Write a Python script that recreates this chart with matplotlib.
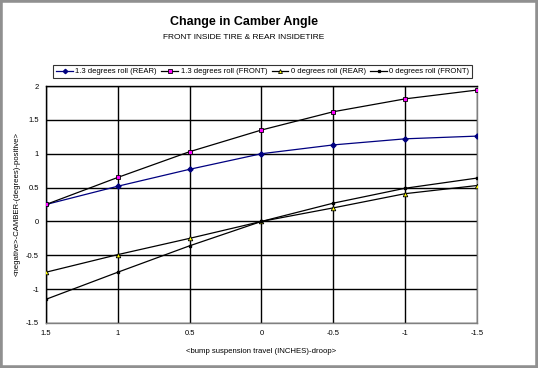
import matplotlib
matplotlib.use("Agg")
import matplotlib.pyplot as plt
from matplotlib.patches import Rectangle

plt.rcParams['font.family'] = ['Liberation Sans', 'DejaVu Sans']

travel = [1.5, 1, 0.5, 0, -0.5, -1, -1.5]
rear_13 = [0.25, 0.52, 0.77, 1.0, 1.13, 1.22, 1.26]
front_13 = [0.25, 0.65, 1.03, 1.35, 1.62, 1.81, 1.94]
rear_0 = [-0.75, -0.49, -0.25, 0.0, 0.20, 0.41, 0.53]
front_0 = [-1.15, -0.75, -0.36, 0.0, 0.27, 0.49, 0.64]
labels = ["1.3 degrees roll (REAR)", "1.3 degrees roll (FRONT)",
          "0 degrees roll (REAR)", "0 degrees roll (FRONT)"]
xticks = [1.5, 1, 0.5, 0, -0.5, -1, -1.5]
xticklabels = ["1.5", "1", "0.5", "0", "-0.5", "-1", "-1.5"]
yticks = [2, 1.5, 1, 0.5, 0, -0.5, -1, -1.5]
yticklabels = ["2", "1.5", "1", "0.5", "0", "-0.5", "-1", "-1.5"]

fig = plt.figure(figsize=(5.38, 3.68), dpi=100)
ax = fig.add_axes([0.0855, 0.1223, 0.801, 0.644])

l1, = ax.plot(travel, rear_13, color='#000080', lw=0.9, marker='D', ms=2.6,
              mfc='#000080', mec='#000080', label=labels[0], zorder=4)
l2, = ax.plot(travel, front_13, color='black', lw=0.9, marker='s', ms=3.3,
              mfc='#ff00ff', mec='black', mew=0.6, label=labels[1], zorder=4)
l3, = ax.plot(travel, rear_0, color='black', lw=0.9, marker='^', ms=3.3,
              mfc='#ffff00', mec='black', mew=0.6, label=labels[2], zorder=4)
l4, = ax.plot(travel, front_0, color='black', lw=0.9, marker='s', ms=1.6,
              mfc='black', mec='black', label=labels[3], zorder=4)

ax.set_xlim(1.5, -1.5)
ax.set_ylim(-1.5, 2)
ax.set_xticks(xticks)
ax.set_xticklabels(xticklabels)
ax.set_yticks(yticks)
ax.set_yticklabels(yticklabels)
ax.tick_params(length=0, labelsize=5.5, pad=5)
ax.grid(True, color='black', lw=1.0, zorder=1)
ax.set_axisbelow(True)
for s in ['left', 'top']:
    ax.spines[s].set_color('black')
for s in ['right', 'bottom']:
    ax.spines[s].set_color('#808080')
for s in ax.spines.values():
    s.set_linewidth(1.0)
    s.set_zorder(3)

ax.set_xlabel("<bump suspension travel (INCHES)-droop>", fontsize=5.6, labelpad=8)
ax.set_ylabel("<negative>-CAMBER-(degrees)-positive>", fontsize=5.6, labelpad=4)

fig.text(0.4535, 0.94, "Change in Camber Angle", ha='center', va='center',
         fontsize=9, fontweight='bold')
fig.text(0.4535, 0.898, "FRONT INSIDE TIRE & REAR INSIDETIRE", ha='center',
         va='center', fontsize=6)

leg = fig.legend(handles=[l1, l2, l3, l4], loc='center', ncol=4,
                 bbox_to_anchor=(0.4885, 0.805), fontsize=5.5, frameon=True,
                 fancybox=False, edgecolor='black', handlelength=2.2,
                 handletextpad=0.3, columnspacing=0.6, borderpad=0.4,
                 markerscale=0.85)
leg.get_frame().set_linewidth(0.8)

fig.patches.append(Rectangle((0, 0), 1, 1, transform=fig.transFigure,
                             fill=False, edgecolor='#909090', lw=4))

fig.savefig("out.png", dpi=100)
